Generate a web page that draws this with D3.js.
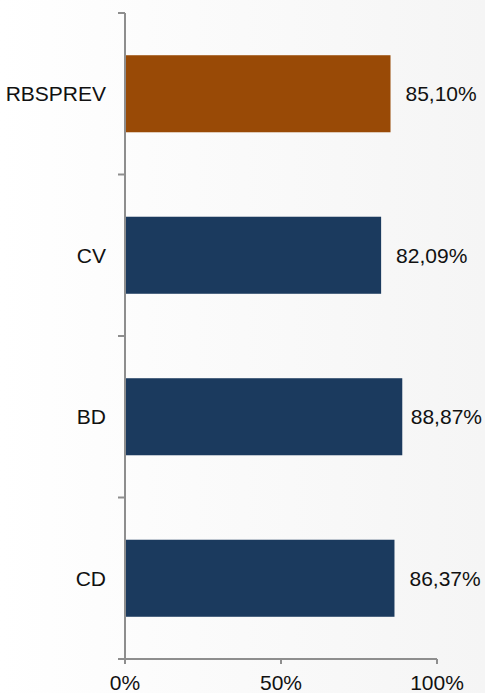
<!DOCTYPE html>
<html><head><meta charset="utf-8">
<script src="https://cdn.jsdelivr.net/npm/d3@7"></script>
<style>html,body{margin:0;padding:0;background:#fff;}svg{display:block;}</style>
</head><body>
<script>
const categories = ["RBSPREV", "CV", "BD", "CD"];
const values = [0.8510, 0.8209, 0.8887, 0.8637];
const valueLabels = ["85,10%", "82,09%", "88,87%", "86,37%"];
const barColors = ["#994a06", "#1b3a5e", "#1b3a5e", "#1b3a5e"];
const xTicks = [0, 0.5, 1];
const xTickLabels = ["0%", "50%", "100%"];

const W = 485, H = 693;
const svg = d3.select("body").append("svg").attr("width", W).attr("height", H);
const defs = svg.append("defs");
const grad = defs.append("linearGradient").attr("id","bg").attr("x1","0").attr("x2","1").attr("y1","0").attr("y2","0");
grad.append("stop").attr("offset","0").attr("stop-color","#ffffff");
grad.append("stop").attr("offset","1").attr("stop-color","#f5f5f5");
svg.append("rect").attr("width", W).attr("height", H).attr("fill","url(#bg)");

const x = d3.scaleLinear().domain([0,1]).range([125, 437]);
const yAxisBand = d3.scaleBand().domain(categories).range([13, 659]).padding(0);
const y = d3.scaleBand().domain(categories).range([13, 659]).paddingInner(0.523).paddingOuter(0.2615);

const font = "'Liberation Sans', Arial, sans-serif";
const fs = 21;
const axisColor = "#8e8e8e";

// bars
svg.selectAll("rect.bar").data(categories).enter().append("rect")
  .attr("class","bar")
  .attr("x", x(0))
  .attr("y", d => y(d))
  .attr("width", (d,i) => x(values[i]) - x(0))
  .attr("height", y.bandwidth())
  .attr("fill", (d,i) => barColors[i]);

// value labels
svg.selectAll("text.val").data(categories).enter().append("text")
  .attr("class","val")
  .attr("font-family", font).attr("font-size", fs).attr("fill","#111")
  .attr("y", d => y(d) + y.bandwidth()/2)
  .attr("dy","0.35em")
  .text((d,i) => valueLabels[i])
  .each(function(d,i){
    const w = this.getComputedTextLength();
    let xs = x(values[i]) + 15;
    if (xs + w > 482) xs = 482 - w;
    d3.select(this).attr("x", xs);
  });

// category labels
svg.selectAll("text.cat").data(categories).enter().append("text")
  .attr("class","cat")
  .attr("font-family", font).attr("font-size", fs).attr("fill","#111")
  .attr("y", d => yAxisBand(d) + yAxisBand.bandwidth()/2)
  .attr("dy","0.35em")
  .text(d => d)
  .each(function(d){
    const w = this.getComputedTextLength();
    let xe = 106;
    if (xe - w < 5) xe = 5 + w;
    d3.select(this).attr("x", xe - w);
  });

// y axis line & ticks
const yTickPos = categories.map(c => yAxisBand(c)).concat([yAxisBand.range()[1]]);
svg.append("line").attr("x1", x(0)).attr("x2", x(0)).attr("y1", 13).attr("y2", 659)
  .attr("stroke", axisColor).attr("stroke-width", 2);
svg.selectAll("line.yt").data(yTickPos).enter().append("line")
  .attr("x1", x(0) - 7).attr("x2", x(0)).attr("y1", d => d).attr("y2", d => d)
  .attr("stroke", axisColor).attr("stroke-width", 2);

// x axis
svg.append("line").attr("x1", x(0)).attr("x2", x(1)).attr("y1", 659).attr("y2", 659)
  .attr("stroke", axisColor).attr("stroke-width", 2);
svg.selectAll("line.xt").data(xTicks).enter().append("line")
  .attr("x1", d => x(d)).attr("x2", d => x(d)).attr("y1", 659).attr("y2", 664)
  .attr("stroke", axisColor).attr("stroke-width", 2);
svg.selectAll("text.xt").data(xTicks).enter().append("text")
  .attr("font-family", font).attr("font-size", fs).attr("fill","#111")
  .attr("text-anchor","middle")
  .attr("x", d => x(d)).attr("y", 690)
  .text((d,i) => xTickLabels[i]);
</script>
</body></html>
